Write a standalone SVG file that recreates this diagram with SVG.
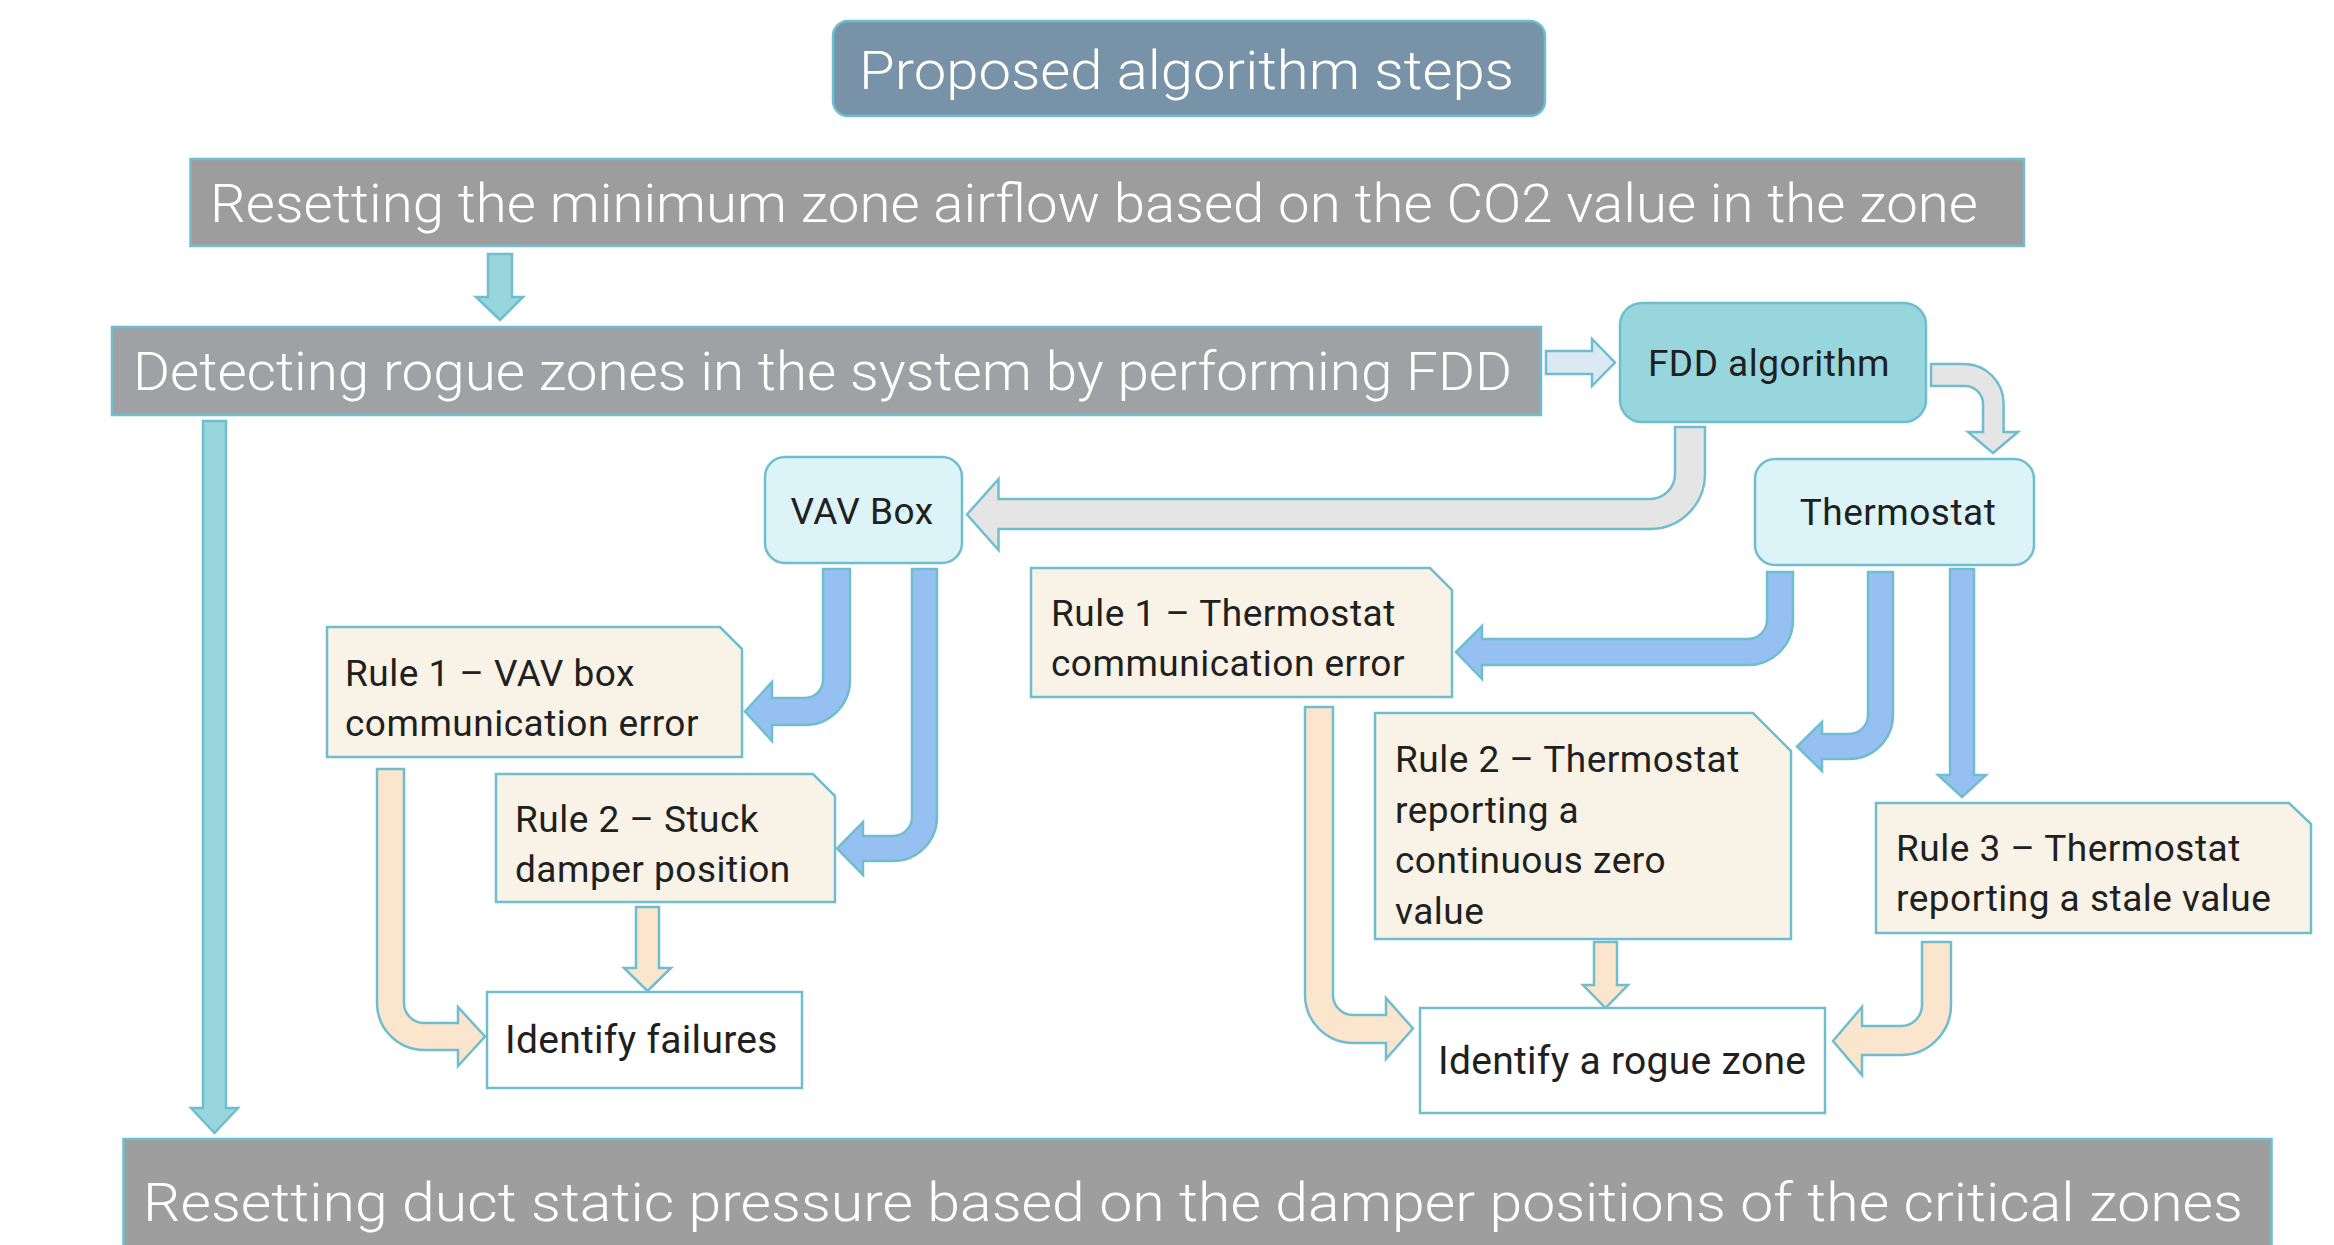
<svg xmlns="http://www.w3.org/2000/svg" width="2334" height="1245" viewBox="0 0 2334 1245">
<style>
.st{stroke:#6fbecf;stroke-width:2.5}
.hdr{fill:#ffffff;font-family:Roboto,"Liberation Sans",sans-serif;font-size:53px;font-weight:300}
.lbl{fill:#202020;font-family:Roboto,"Liberation Sans",sans-serif;font-size:37px;letter-spacing:0.5px}
.big{fill:#202020;font-family:Roboto,"Liberation Sans",sans-serif;font-size:39px;letter-spacing:0.3px}
.gray{fill:#9d9d9e}
.rule{fill:#f8f3e6}
.dev{fill:#dcf4f8}
.teal{fill:#97d6dd}
.lblue{fill:#dce9f5}
.garr{fill:#e5e5e5}
.barr{fill:#97c0f2}
.oarr{fill:#fbe5cd}
</style>
<rect width="2334" height="1245" fill="#ffffff"/>
<g id="connectors">
<path class="teal st" d="M488,254 H512 V297 H523 L500,320 L476,297 H488 Z"/>
<path class="teal st" d="M203,421 H226 V1108 H238 L214.5,1133 L191,1108 H203 Z"/>
<path class="lblue st" d="M1546,351 H1592 V339 L1615,362.5 L1592,386 V374 H1546 Z"/>
<path class="garr st" d="M1931,364 H1964 A39.6,39.6 0 0 1 2003.6,403.6 V432 H2018 L1993,453 L1968,432 H1983 V404 A18,18 0 0 0 1965,386 H1931 Z"/>
<path class="garr st" d="M1675,427 H1705 V474 A55,55 0 0 1 1650,529 H998.5 V550 L967,514.5 L998.5,479 V499 H1650 A25,25 0 0 0 1675,474 Z"/>
<path class="barr st" d="M823,569 H850 V680 A45,45 0 0 1 805,725 H772 V741 L745,711.5 L772,682 V698 H805 A18,18 0 0 0 823,680 Z"/>
<path class="barr st" d="M912,569 H937 V817 A44,44 0 0 1 893,861 H863 V875 L837,848.5 L863,822 V836 H893 A19,19 0 0 0 912,817 Z"/>
<path class="barr st" d="M1767,572 H1793 V620 A45,45 0 0 1 1748,665 H1482 V679 L1456,652 L1482,626 V639 H1748 A19,19 0 0 0 1767,620 Z"/>
<path class="barr st" d="M1868,572 H1893 V715 A44,44 0 0 1 1849,759 H1822 V771 L1797,746.5 L1822,722 V734 H1849 A19,19 0 0 0 1868,715 Z"/>
<path class="barr st" d="M1950,569 H1974 V775 H1986 L1962,797 L1938,775 H1950 Z"/>
<path class="oarr st" d="M377,769 H404 V1003 A20,20 0 0 0 424,1023 H458 V1007 L485,1036.5 L458,1066 V1050 H424 A47,47 0 0 1 377,1003 Z"/>
<path class="oarr st" d="M636,907 H659 V968 H671 L647.5,991 L624,968 H636 Z"/>
<path class="oarr st" d="M1305,707 H1333 V995 A20,20 0 0 0 1353,1015 H1386 V998 L1413,1028.5 L1386,1059 V1043 H1353 A48,48 0 0 1 1305,995 Z"/>
<path class="oarr st" d="M1594,942 H1617 V985 H1628 L1605.5,1008 L1583,985 H1594 Z"/>
<path class="oarr st" d="M1922,942 H1951 V1005 A50,50 0 0 1 1901,1055 H1862 V1075 L1833,1041 L1862,1007 V1026 H1901 A21,21 0 0 0 1922,1005 Z"/>
</g>
<g id="title">
<rect x="833" y="21" width="712" height="95" rx="15" fill="#7893a8" class="st"/>
<text class="hdr" x="859" y="89" font-size="55" textLength="655" lengthAdjust="spacingAndGlyphs">Proposed algorithm steps</text>
</g>
<g id="step1">
<rect x="190.5" y="159" width="1833.5" height="87" class="gray st"/>
<text class="hdr" x="210" y="222" textLength="1768" lengthAdjust="spacingAndGlyphs">Resetting the minimum zone airflow based on the CO2 value in the zone</text>
</g>
<g id="step2">
<rect x="112" y="327" width="1429" height="88" fill="#a0a1a4" class="st"/>
<text class="hdr" x="133" y="390" textLength="1379" lengthAdjust="spacingAndGlyphs">Detecting rogue zones in the system by performing FDD</text>
</g>
<g id="step3">
<rect x="123.5" y="1139" width="2148" height="120" fill="#9e9e9e" class="st"/>
<text class="hdr" x="143" y="1221" font-size="55" textLength="2100" lengthAdjust="spacingAndGlyphs">Resetting duct static pressure based on the damper positions of the critical zones</text>
</g>
<g id="fdd">
<rect x="1620" y="303" width="306" height="119" rx="22" class="teal st"/>
<text class="lbl" x="1769" y="376" text-anchor="middle">FDD algorithm</text>
</g>
<g id="vav">
<rect x="765" y="457" width="197" height="106" rx="20" class="dev st"/>
<text class="lbl" x="862" y="524" text-anchor="middle">VAV Box</text>
</g>
<g id="thermostat">
<rect x="1755" y="459" width="279" height="106" rx="20" class="dev st"/>
<text class="lbl" x="1898" y="525" text-anchor="middle">Thermostat</text>
</g>
<g id="rule1-vav">
<path d="M327,627 H720 L742,649 V757 H327 Z" class="rule st"/>
<text class="lbl" x="345" y="686">Rule 1 – VAV box</text>
<text class="lbl" x="345" y="736">communication error</text>
</g>
<g id="rule2-vav">
<path d="M496,774 H813 L835,796 V902 H496 Z" class="rule st"/>
<text class="lbl" x="515" y="832">Rule 2 – Stuck</text>
<text class="lbl" x="515" y="882">damper position</text>
</g>
<g id="identify-failures">
<rect x="487" y="992" width="315" height="96" fill="#ffffff" class="st"/>
<text class="big" x="505" y="1053">Identify failures</text>
</g>
<g id="rule1-thermostat">
<path d="M1031,568 H1430 L1452,590 V697 H1031 Z" class="rule st"/>
<text class="lbl" x="1051" y="626">Rule 1 – Thermostat</text>
<text class="lbl" x="1051" y="676">communication error</text>
</g>
<g id="rule2-thermostat">
<path d="M1375,713 H1753 L1791,751 V939 H1375 Z" class="rule st"/>
<text class="lbl" x="1395" y="772">Rule 2 – Thermostat</text>
<text class="lbl" x="1395" y="823">reporting a</text>
<text class="lbl" x="1395" y="873">continuous zero</text>
<text class="lbl" x="1395" y="924">value</text>
</g>
<g id="rule3-thermostat">
<path d="M1876,803 H2289 L2311,824 V933 H1876 Z" class="rule st"/>
<text class="lbl" x="1896" y="861">Rule 3 – Thermostat</text>
<text class="lbl" x="1896" y="911">reporting a stale value</text>
</g>
<g id="identify-rogue">
<rect x="1420" y="1008" width="405" height="105" fill="#ffffff" class="st"/>
<text class="big" x="1438" y="1074">Identify a rogue zone</text>
</g>
</svg>
